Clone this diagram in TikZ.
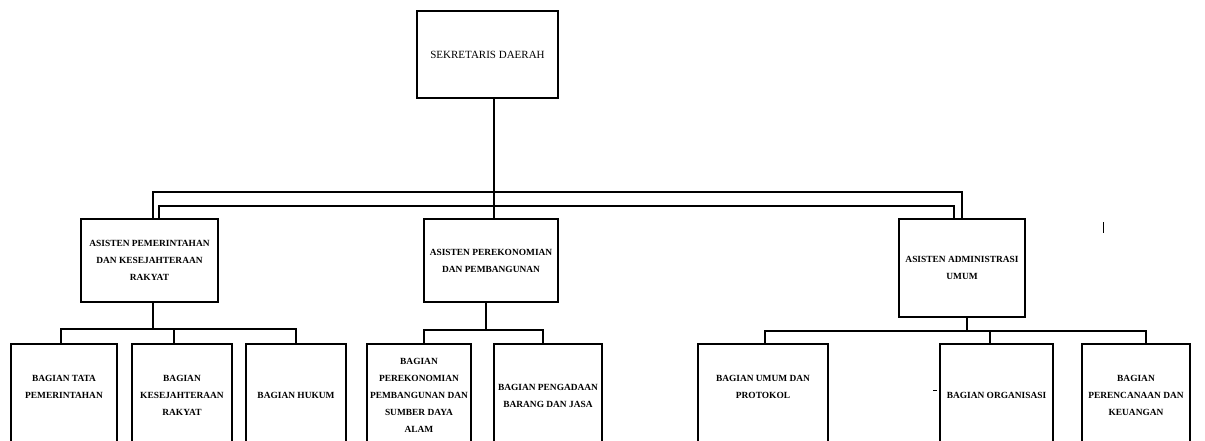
\documentclass[tikz,border=0pt]{standalone}
\usepackage{fontspec}
\setmainfont{Liberation Serif}
\usetikzlibrary{calc,positioning}
\tikzset{
	kotak/.style={draw, line width=1.5pt, align=center, inner sep=1pt, font=\bfseries\fontsize{9.4}{17}\selectfont},
	anak/.style={kotak, anchor=north, minimum height=104pt},
	garis/.style={line width=1.1pt},
	cabang/.style={line width=1.5pt},
}

\begin{document}
\begin{tikzpicture}[x=1pt,y=-1pt]
		%%%%% START %%%%%
		\useasboundingbox (0,0) rectangle (1205,441);
		\clip (0,0) rectangle (1205,441);
		
		\node[kotak, font=\fontsize{11}{13}\selectfont, minimum width=141pt, minimum height=87pt] (sekda) at (487.5,54.5) {SEKRETARIS DAERAH};
		
		\node[kotak, minimum width=137pt, minimum height=83pt] (asPem) at (149.5,260.5) {ASISTEN PEMERINTAHAN\\DAN KESEJAHTERAAN\\RAKYAT};
		\node[kotak, minimum width=134pt, minimum height=83pt] (asEko) at (491,260.5) {ASISTEN PEREKONOMIAN\\DAN PEMBANGUNAN};
		\node[kotak, minimum width=126pt, minimum height=98pt] (asAdm) at (962,268) {ASISTEN ADMINISTRASI\\UMUM};
		
		\node[anak, minimum width=106pt] (bTapem) at (64,343) {BAGIAN TATA\\PEMERINTAHAN\\\mbox{}};
		\node[anak, minimum width=100pt] (bKesra) at (182,343) {BAGIAN\\KESEJAHTERAAN\\RAKYAT};
		\node[anak, minimum width=100pt] (bHukum) at (296,343) {BAGIAN HUKUM};
		
		\node[anak, minimum width=104pt] (bEko) at (419,343) {BAGIAN\\PEREKONOMIAN\\PEMBANGUNAN DAN\\SUMBER DAYA\\ALAM};
		\node[anak, minimum width=108pt] (bPbj) at (548,343) {BAGIAN PENGADAAN\\BARANG DAN JASA};
		
		\node[anak, minimum width=130pt] (bUmum) at (763,343) {BAGIAN UMUM DAN\\PROTOKOL\\\mbox{}};
		\node[anak, minimum width=113pt] (bOrg) at (996.5,343) {BAGIAN ORGANISASI};
		\node[anak, minimum width=108pt] (bRenkeu) at (1136,343) {BAGIAN\\PERENCANAAN DAN\\KEUANGAN};
		
		% garis dari sekretaris ke asisten
		\coordinate (atas1) at (0,192);
		\coordinate (atas2) at (0,206);
		\draw[garis] ([xshift=3pt]asEko.north) -- ([xshift=3pt]asEko.north |- sekda.south);
		\draw[garis] ([xshift=3.5pt]asPem.north) |- (atas1 -| asAdm.north) -- (asAdm.north);
		\draw[garis] ([xshift=9.5pt]asPem.north) |- ($(atas2 -| asAdm.north)+(-8,0)$) -- ([xshift=-8pt]asAdm.north);
		
		% cabang ke bagian
		\coordinate (cabang1) at (0,329);
		\coordinate (cabang2) at (0,330);
		\coordinate (cabang3) at (0,331);
		
		\draw[cabang] ([xshift=3.5pt]asPem.south) -- ([xshift=3.5pt]asPem.south |- cabang1);
		\draw[cabang] ([xshift=-3pt]bTapem.north) |- (cabang1 -| bHukum.north) -- (bHukum.north);
		\draw[cabang] ([xshift=-8pt]bKesra.north) -- ([xshift=-8pt]bKesra.north |- cabang1);
		
		\draw[cabang] ([xshift=-5pt]asEko.south) -- ([xshift=-5pt]asEko.south |- cabang2);
		\draw[cabang] ([xshift=5pt]bEko.north) |- ($(cabang2 -| bPbj.north)+(-5,0)$) -- ([xshift=-5pt]bPbj.north);
		
		\draw[cabang] ([xshift=5pt]asAdm.south) -- ([xshift=5pt]asAdm.south |- cabang3);
		\draw[cabang] ([xshift=2pt]bUmum.north) |- ($(cabang3 -| bRenkeu.north)+(10,0)$) -- ([xshift=10pt]bRenkeu.north);
		\draw[cabang] ([xshift=-6.5pt]bOrg.north) -- ([xshift=-6.5pt]bOrg.north |- cabang3);
		
		% coretan kecil
		\draw[line width=1pt] (1103,222) -- (1103,233);
		\draw[line width=0.8pt] (933,390) -- (937,390);
		%%%%% END %%%%%
	\end{tikzpicture}
\end{document}
